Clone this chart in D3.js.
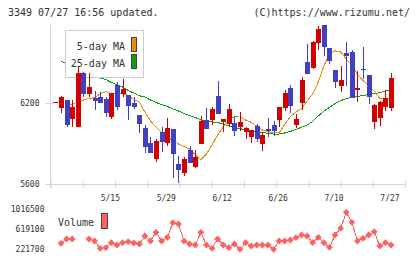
<!DOCTYPE html>
<html>
<head>
<meta charset="utf-8">
<script src="https://cdn.jsdelivr.net/npm/d3@7"></script>
<style>
  body { margin: 0; background: #fff; }
  svg { display: block; }
  text { font-family: "DejaVu Sans Mono", monospace; fill: #333; }
</style>
</head>
<body>
<svg id="chart" width="420" height="259"></svg>
<script>
/***** Data (one slot per trading day) *****/
var open  = [6210,6161,6222,6079,6024,6424,6264,6235,6242,6230,6099,6333,6270,6259,6202,6111,6013,5901,5787,5983,5904,6005,5747,5684,5852,5728,5896,6074,6074,6252,6061,6044,6050,6020,5987,5950,6030,5896,6007,6037,6074,6165,6311,6037,6198,6504,6461,6647,6778,6607,6444,6328,6570,6578,6296,6454,6407,6061,6091,6173,6161];
var close = [6210,6247,6037,6168,6424,6267,6321,6217,6202,6128,6274,6167,6304,6178,6170,6044,5876,5827,5921,5913,6013,5824,5704,5784,5758,5798,6067,6005,6153,6116,6081,6156,5995,6059,6017,6000,5931,5963,5993,5995,6170,6274,6180,6081,6370,6417,6652,6748,6617,6513,6358,6370,6550,6239,6313,6447,6247,6185,6210,6239,6387];
var high  = [6210,6254,6222,6222,6469,6430,6424,6290,6280,6247,6274,6352,6376,6259,6247,6111,6037,5948,5931,6019,6087,6005,5805,5800,5885,5852,6104,6161,6168,6363,6081,6193,6104,6131,6024,6000,6044,5987,6091,6069,6170,6296,6333,6119,6395,6637,6659,6773,6778,6607,6444,6474,6652,6590,6437,6615,6407,6193,6217,6296,6424];
var low   = [6210,6128,6020,6024,6024,6244,6247,6145,6198,6099,6084,6150,6247,6074,6156,5980,5832,5827,5765,5837,5885,5648,5607,5662,5758,5716,5896,6005,6037,6116,5987,6024,5958,5995,5933,5906,5913,5847,5950,5956,6024,6143,6128,6017,6148,6417,6450,6593,6550,6491,6313,6284,6328,6239,6210,6380,6190,6010,6030,6143,6143];

var ma5 = [null,null,6170,6193,6207,6222,6233,6241,6267,6285,6267,6267,6267,6256,6226,6207,6133,6067,6022,5978,5948,5922,5896,5878,5859,5815,5781,5822,5889,5963,6022,6074,6099,6096,6074,6057,6030,6000,5989,5978,5978,6041,6100,6133,6159,6215,6267,6356,6474,6563,6587,6578,6526,6481,6411,6367,6330,6289,6233,6230,6237];
var ma25 = [null,6507,6496,6474,6452,6430,6411,6396,6385,6374,6352,6335,6319,6293,6274,6254,6244,6222,6204,6189,6174,6156,6141,6122,6107,6093,6074,6067,6059,6056,6044,6030,6019,6010,6000,5990,5985,5981,5976,5970,5970,5978,5989,6005,6020,6037,6063,6104,6139,6168,6196,6217,6233,6242,6248,6256,6263,6269,6277,6289,6300];

var volume = [null,335800,421900,421900,null,null,421900,381900,235700,247700,347800,301800,347800,367800,342000,321800,481900,381900,556000,381900,455900,748200,722200,381900,321800,301800,556000,301800,235700,421900,301800,247700,321800,215000,347800,281800,301800,301800,301800,215000,381900,381900,401900,449200,502000,481900,347800,455900,347800,255700,502000,636100,956400,756200,381900,435900,502000,568000,281800,347800,301800];

var priceTicks = [5600, 6200];
var volumeTicks = [221700, 619100, 1016500];
var dateSlots = [10, 20, 30, 40, 50, 60];
var dateLabels = ["5/15", "5/29", "6/12", "6/26", "7/10", "7/27"];

/***** Configuration *****/
var upColor = "#d40000", downColor = "#4040c0";
var ma5Color = "#f08c00", ma25Color = "#10a010", volColor = "#ff6060";
var axisColor = "#d4d4d4";

var svg = d3.select("#chart");

/***** Scales *****/
var x = d3.scaleLinear().domain([0, open.length - 1]).range([55.4, 391]);
var y = d3.scaleLinear().domain([5600, 6800]).range([184, 22]);
var yv = d3.scaleLinear().domain([221700, 1016500]).range([249, 209.3]);
var xt = d3.scaleLinear().domain([0, 11]).range([50.7, 405]);

/***** Header *****/
svg.append("text").attr("x", 8).attr("y", 16).style("font-size", "10px")
   .text("3349 07/27 16:56 updated.");
svg.append("text").attr("x", 410).attr("y", 16).attr("text-anchor", "end").style("font-size", "10px")
   .text("(C)https://www.rizumu.net/");

/***** Axes *****/
svg.append("line").attr("x1", 50.5).attr("x2", 50.5).attr("y1", 25).attr("y2", 188)
   .attr("stroke", axisColor);
svg.append("line").attr("x1", 45).attr("x2", 405).attr("y1", 184.5).attr("y2", 184.5)
   .attr("stroke", axisColor);

var yAxis = svg.append("g").attr("transform", "translate(51,0)")
   .call(d3.axisLeft(y).tickValues(priceTicks).tickSize(6).tickPadding(5.5).tickFormat(d3.format("d")));
yAxis.select(".domain").remove();
yAxis.selectAll(".tick line").attr("stroke", axisColor).attr("x1", 2);
yAxis.selectAll(".tick text").style("font-size", "8px").style("font-family", "DejaVu Sans Mono").attr("fill", "#333");

var xAxis = svg.append("g").attr("transform", "translate(0,184)")
   .call(d3.axisBottom(xt).tickValues(d3.range(12)).tickSize(4).tickFormat(""));
xAxis.select(".domain").remove();
xAxis.selectAll(".tick line").attr("stroke", axisColor).attr("y1", -3);

svg.append("g").selectAll("text").data(dateSlots).join("text")
   .attr("x", function (d) { return x(d) - 1; })
   .attr("y", 201)
   .attr("text-anchor", "middle")
   .style("font-size", "8px")
   .text(function (d, i) { return dateLabels[i]; });

svg.append("g").selectAll("text").data(volumeTicks).join("text")
   .attr("x", 44.5)
   .attr("y", function (d) { return yv(d); })
   .attr("dy", "0.32em")
   .attr("text-anchor", "end")
   .style("font-size", "8px")
   .text(function (d) { return d; });

/***** Moving averages *****/
var line = d3.line()
   .defined(function (d) { return d != null; })
   .x(function (d, i) { return x(i); })
   .y(function (d) { return y(d); });

svg.append("path").datum(ma25).attr("d", line).attr("shape-rendering", "crispEdges")
   .attr("fill", "none").attr("stroke", ma25Color).attr("stroke-width", 1);
svg.append("path").datum(ma5).attr("d", line).attr("shape-rendering", "crispEdges")
   .attr("fill", "none").attr("stroke", ma5Color).attr("stroke-width", 1);

/***** Legend *****/
var legend = svg.append("g");
legend.append("rect").attr("x", 65.5).attr("y", 30.5).attr("width", 78).attr("height", 47)
   .attr("fill", "#fff").attr("stroke", "#ccc");
legend.append("text").attr("x", 125).attr("y", 50).attr("text-anchor", "end")
   .style("font-size", "10px").text("5-day MA");
legend.append("text").attr("x", 125).attr("y", 66.5).attr("text-anchor", "end")
   .style("font-size", "10px").text("25-day MA");
legend.append("rect").attr("x", 131.5).attr("y", 37.5).attr("width", 5).attr("height", 14)
   .attr("fill", ma5Color).attr("stroke", "#444");
legend.append("rect").attr("x", 131.5).attr("y", 54.5).attr("width", 5).attr("height", 14)
   .attr("fill", ma25Color).attr("stroke", "#444");

/***** Candles *****/
var candles = svg.append("g").attr("shape-rendering", "crispEdges")
   .selectAll("g").data(d3.range(open.length)).join("g");

function candleColor(i) { return close[i] >= open[i] ? upColor : downColor; }

candles.append("line")
   .attr("x1", function (i) { return Math.round(x(i)) + 0.5; })
   .attr("x2", function (i) { return Math.round(x(i)) + 0.5; })
   .attr("y1", function (i) { return y(high[i]); })
   .attr("y2", function (i) { return y(low[i]); })
   .attr("stroke", candleColor);

candles.append("rect")
   .attr("x", function (i) { return Math.round(x(i)) - 2; })
   .attr("width", 5)
   .attr("y", function (i) { return y(Math.max(open[i], close[i])); })
   .attr("height", function (i) { return Math.max(1, y(Math.min(open[i], close[i])) - y(Math.max(open[i], close[i]))); })
   .attr("fill", candleColor);

/***** Volume *****/
var vline = d3.line()
   .defined(function (d) { return d != null; })
   .x(function (d, i) { return x(i); })
   .y(function (d) { return yv(d); });

svg.append("path").datum(volume).attr("d", vline).attr("shape-rendering", "crispEdges")
   .attr("fill", "none").attr("stroke", volColor).attr("stroke-width", 1);

svg.append("g").selectAll("path")
   .data(volume.map(function (v, i) { return { v: v, i: i }; }).filter(function (d) { return d.v != null; }))
   .join("path")
   .attr("transform", function (d) { return "translate(" + x(d.i) + "," + yv(d.v) + ")"; })
   .attr("d", "M0,-3.4L3.4,0L0,3.4L-3.4,0Z")
   .attr("fill", volColor);

svg.append("text").attr("x", 58).attr("y", 226).style("font-size", "10px").text("Volume");
svg.append("rect").attr("x", 101.5).attr("y", 213.5).attr("width", 6).attr("height", 15)
   .attr("fill", volColor).attr("stroke", "#444");
</script>
</body>
</html>
